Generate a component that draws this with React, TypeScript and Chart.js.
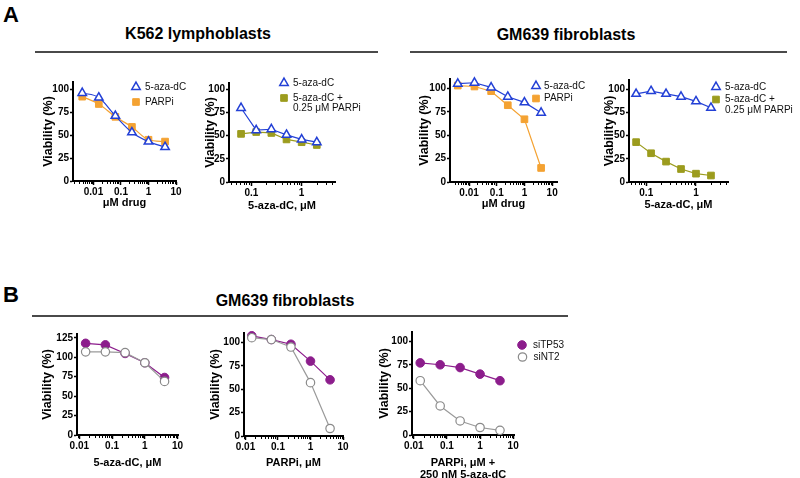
import React, { useEffect, useRef } from 'react';
import { Chart, registerables } from 'chart.js';

Chart.register(...registerables);

const FONT = "Arial, 'Liberation Sans', Helvetica, sans-serif";

// ---------------- data ----------------
const doseA4x = [0.0039, 0.0156, 0.0625, 0.25, 1, 4];
const doseA2x = [0.0625, 0.125, 0.25, 0.5, 1, 2];
const doseB = [0.0156, 0.0625, 0.25, 1, 4];

const a1Aza = [96, 91, 71, 53, 43, 37];
const a1Parp = [92, 84, 70, 59, 45, 43];

const a2Aza = [80, 56, 57, 51, 46, 43];
const a2Combo = [52, 54, 53, 46, 43, 40];

const a3Aza = [105, 106, 101, 91, 85, 74];
const a3Parp = [103, 102, 97, 82, 67, 15];

const a4Aza = [95, 98, 95, 92, 87, 80];
const a4Combo = [43, 31, 22, 14, 9, 7];

const b1TP53 = [118, 116, 105, 93, 74];
const b1NT2 = [107, 107, 106, 93, 69];
const b2TP53 = [107, 103, 98, 80, 60];
const b2NT2 = [105, 103, 95, 57, 8];
const b3TP53 = [77, 75, 72, 65, 58];
const b3NT2 = [58, 31, 15, 8, 5];

const yTicksA = [0, 25, 50, 75, 100];
const yTicksB1 = [0, 25, 50, 75, 100, 125];
const xTickLabels = [0.01, 0.1, 1, 10];

// ---------------- styles ----------------
const BLUE = '#2340d6';
const ORANGE = '#f4a232';
const OLIVE = '#9c9c1e';
const PURPLE = '#8c1d8c';
const GRAY = '#8a8a8a';

type Shape = 'triangle' | 'rect' | 'circle';
type Series = {
  name: string; x: number[]; y: number[]; shape: Shape; stroke: string; fill: string;
  line: string; r: number; bw: number; smooth?: boolean;
};
type LegendItem = { ds: number; x: number; y: number; text: string[] };
type Cfg = {
  x0: number; x1: number; yTop: number; y0: number;
  xMin: number; xMax: number; yMax: number; yTicks: number[];
  xTitle: string | string[]; yTitleX: number; xTitleY: number; rightExtent: number;
  series: Series[]; legend: LegendItem[]; textDx: number;
};

const tri = (name: string, x: number[], y: number[], smooth = false): Series => ({
  name, x, y, shape: 'triangle', stroke: BLUE, fill: '#ffffff', line: BLUE, r: 4.9, bw: 1.5, smooth,
});
const sq = (name: string, x: number[], y: number[], c: string, smooth = false): Series => ({
  name, x, y, shape: 'rect', stroke: c, fill: c, line: c, r: 4.7, bw: 1, smooth,
});
const dotP = (x: number[], y: number[]): Series => ({
  name: 'siTP53', x, y, shape: 'circle', stroke: PURPLE, fill: PURPLE, line: PURPLE, r: 4.3, bw: 1,
});
const dotG = (x: number[], y: number[]): Series => ({
  name: 'siNT2', x, y, shape: 'circle', stroke: GRAY, fill: '#ffffff', line: '#9a9a9a', r: 4.2, bw: 1.2,
});

const panels: Cfg[] = [
  {
    x0: 73, x1: 176, yTop: 82, y0: 181, xMin: 0.0018, xMax: 10, yMax: 108, yTicks: yTicksA,
    xTitle: 'μM drug', yTitleX: 48, xTitleY: 203, rightExtent: 192,
    series: [tri('5-aza-dC', doseA4x, a1Aza, true), sq('PARPi', doseA4x, a1Parp, ORANGE, true)],
    legend: [
      { ds: 0, x: 136, y: 87, text: ['5-aza-dC'] },
      { ds: 1, x: 136, y: 102, text: ['PARPi'] },
    ],
    textDx: 9,
  },
  {
    x0: 229, x1: 335, yTop: 83, y0: 182, xMin: 0.036, xMax: 4.6, yMax: 107, yTicks: yTicksA,
    xTitle: '5-aza-dC, μM', yTitleX: 210, xTitleY: 205.5, rightExtent: 370,
    series: [tri('5-aza-dC', doseA2x, a2Aza), sq('5-aza-dC + 0.25 μM PARPi', doseA2x, a2Combo, OLIVE)],
    legend: [
      { ds: 0, x: 284, y: 83, text: ['5-aza-dC'] },
      { ds: 1, x: 284, y: 98, text: ['5-aza-dC +', '0.25 μM PARPi'] },
    ],
    textDx: 9,
  },
  {
    x0: 450, x1: 557, yTop: 79, y0: 182, xMin: 0.00204, xMax: 15, yMax: 110, yTicks: yTicksA,
    xTitle: 'μM drug', yTitleX: 424, xTitleY: 204, rightExtent: 592,
    series: [tri('5-aza-dC', doseA4x, a3Aza), sq('PARPi', doseA4x, a3Parp, ORANGE)],
    legend: [
      { ds: 0, x: 536, y: 86, text: ['5-aza-dC'] },
      { ds: 1, x: 536, y: 98.5, text: ['PARPi'] },
    ],
    textDx: 8,
  },
  {
    x0: 629, x1: 728, yTop: 80, y0: 182, xMin: 0.045, xMax: 4.4, yMax: 110, yTicks: yTicksA,
    xTitle: '5-aza-dC, μM', yTitleX: 609, xTitleY: 205, rightExtent: 800,
    series: [tri('5-aza-dC', doseA2x, a4Aza), sq('5-aza-dC + 0.25 μM PARPi', doseA2x, a4Combo, OLIVE)],
    legend: [
      { ds: 0, x: 716, y: 87, text: ['5-aza-dC'] },
      { ds: 1, x: 716, y: 99.5, text: ['5-aza-dC +', '0.25 μM PARPi'] },
    ],
    textDx: 9,
  },
  {
    x0: 77, x1: 178, yTop: 334, y0: 435, xMin: 0.0085, xMax: 10.3, yMax: 130, yTicks: yTicksB1,
    xTitle: '5-aza-dC, μM', yTitleX: 47, xTitleY: 463, rightExtent: 192,
    series: [dotG(doseB, b1NT2), dotP(doseB, b1TP53)],
    legend: [], textDx: 0,
  },
  {
    x0: 244, x1: 343, yTop: 333, y0: 436, xMin: 0.009, xMax: 10, yMax: 110, yTicks: yTicksA,
    xTitle: 'PARPi, μM', yTitleX: 215, xTitleY: 463, rightExtent: 357,
    series: [dotG(doseB, b2NT2), dotP(doseB, b2TP53)],
    legend: [], textDx: 0,
  },
  {
    x0: 412, x1: 514, yTop: 332, y0: 435, xMin: 0.0088, xMax: 10.6, yMax: 110, yTicks: yTicksA,
    xTitle: ['PARPi, μM +', '250 nM 5-aza-dC'], yTitleX: 384, xTitleY: 474.5, rightExtent: 580,
    series: [dotG(doseB, b3NT2), dotP(doseB, b3TP53)],
    legend: [
      { ds: 1, x: 522, y: 345, text: ['siTP53'] },
      { ds: 0, x: 522.5, y: 357, text: ['siNT2'] },
    ],
    textDx: 11,
  },
];

function drawMarker(ctx: CanvasRenderingContext2D, style: string, x: number, y: number, r: number,
  stroke: string, fill: string, bw: number) {
  ctx.beginPath();
  if (style === 'triangle') {
    let a = 0;
    ctx.moveTo(x + Math.sin(a) * r, y - Math.cos(a) * r);
    a += (2 * Math.PI) / 3;
    ctx.lineTo(x + Math.sin(a) * r, y - Math.cos(a) * r);
    a += (2 * Math.PI) / 3;
    ctx.lineTo(x + Math.sin(a) * r, y - Math.cos(a) * r);
    ctx.closePath();
  } else if (style === 'rect') {
    const s = r * Math.SQRT1_2;
    ctx.rect(x - s, y - s, 2 * s, 2 * s);
  } else {
    ctx.arc(x, y, r, 0, Math.PI * 2);
  }
  ctx.fillStyle = fill;
  ctx.fill();
  if (bw > 0) {
    ctx.lineWidth = bw;
    ctx.strokeStyle = stroke;
    ctx.stroke();
  }
}

const decor = {
  id: 'decor',
  afterDraw(chart: any, _args: any, opts: any) {
    const ctx: CanvasRenderingContext2D = chart.ctx;
    const xs = chart.scales.x;
    const bottom = chart.chartArea.bottom;
    ctx.save();
    ctx.strokeStyle = '#000';
    ctx.lineWidth = 1;
    const lo = Math.floor(Math.log10(xs.min));
    const hi = Math.ceil(Math.log10(xs.max));
    for (let e = lo; e <= hi; e++) {
      for (let k = 2; k <= 9; k++) {
        const v = k * Math.pow(10, e);
        if (v <= xs.min || v >= xs.max) continue;
        const px = Math.round(xs.getPixelForValue(v)) + 0.5;
        ctx.beginPath();
        ctx.moveTo(px, bottom);
        ctx.lineTo(px, bottom + 3);
        ctx.stroke();
      }
    }
    const items: LegendItem[] = opts.items || [];
    items.forEach((it) => {
      const ds = chart.data.datasets[it.ds];
      const x = it.x - opts.ox;
      const y = it.y - opts.oy;
      drawMarker(ctx, ds.pointStyle, x, y, ds.pointRadius, ds.pointBorderColor, ds.pointBackgroundColor, ds.pointBorderWidth);
      ctx.fillStyle = '#111';
      ctx.font = `10px ${FONT}`;
      ctx.textBaseline = 'middle';
      ctx.textAlign = 'left';
      it.text.forEach((t, i) => ctx.fillText(t, x + opts.dx, y + i * 10.5));
    });
    ctx.restore();
  },
};

const Y_TITLE_SIZE = 12.5;
const Y_TITLE_LH = Y_TITLE_SIZE * 1.2;
const X_TITLE_SIZE = 11;
const X_TITLE_LH = X_TITLE_SIZE * 1.1;

function geometry(c: Cfg) {
  const left = Math.round(c.yTitleX - Y_TITLE_LH / 2);
  const top = c.yTop - 10;
  const bottom = Math.round(c.xTitleY + X_TITLE_LH / 2);
  const right = Math.max(c.x1 + 12, c.rightExtent);
  return {
    left, top, width: right - left, height: bottom - top,
    L: c.x0 - left, T: c.yTop - top, B: bottom - c.y0, R: right - c.x1,
  };
}

function Panel({ cfg }: { cfg: Cfg }) {
  const ref = useRef<HTMLCanvasElement>(null);
  const g = geometry(cfg);
  useEffect(() => {
    if (!ref.current) return;
    const tickFont = { family: FONT, size: 10, weight: 'bold' as const };
    const chart = new Chart(ref.current, {
      type: 'line',
      data: {
        datasets: cfg.series.map((s) => ({
          label: s.name,
          data: s.x.map((x, i) => ({ x, y: s.y[i] })),
          borderColor: s.line,
          backgroundColor: s.fill,
          borderWidth: 1.2,
          pointStyle: s.shape,
          pointRadius: s.r,
          pointBorderColor: s.stroke,
          pointBackgroundColor: s.fill,
          pointBorderWidth: s.bw,
          tension: s.smooth ? 0.4 : 0,
          cubicInterpolationMode: s.smooth ? 'monotone' : 'default',
          fill: false,
          clip: false,
        })) as any,
      },
      options: {
        responsive: false,
        animation: false,
        devicePixelRatio: 1,
        layout: { padding: { left: 0, top: g.T, right: g.R, bottom: 0 } },
        plugins: {
          legend: { display: false },
          tooltip: { enabled: false },
          decor: { items: cfg.legend, ox: g.left, oy: g.top, dx: cfg.textDx },
        } as any,
        scales: {
          x: {
            type: 'logarithmic',
            min: cfg.xMin,
            max: cfg.xMax,
            afterBuildTicks: (s: any) => {
              s.ticks = xTickLabels.filter((v) => v >= cfg.xMin && v <= cfg.xMax).map((v) => ({ value: v, major: true }));
            },
            afterFit: (s: any) => { s.height = g.B; },
            ticks: {
              callback: (v: any) => String(v),
              font: tickFont, color: '#000', padding: 1, maxRotation: 0, autoSkip: false,
            },
            grid: { drawOnChartArea: false, drawTicks: true, tickLength: 4, tickColor: '#000', tickWidth: 1.5 },
            border: { display: true, color: '#000', width: 2 },
            title: {
              display: true, text: cfg.xTitle as any, color: '#000', padding: 0,
              font: { family: FONT, size: X_TITLE_SIZE, weight: 'bold', lineHeight: 1.1 },
            },
          },
          y: {
            type: 'linear',
            min: 0,
            max: cfg.yMax,
            afterBuildTicks: (s: any) => { s.ticks = cfg.yTicks.map((v) => ({ value: v })); },
            afterFit: (s: any) => { s.width = g.L; },
            ticks: { font: tickFont, color: '#000', padding: 1, callback: (v: any) => String(v) },
            grid: { drawOnChartArea: false, drawTicks: true, tickLength: 3, tickColor: '#000', tickWidth: 1.5 },
            border: { display: true, color: '#000', width: 2 },
            title: {
              display: true, text: 'Viability (%)', color: '#000', padding: 0,
              font: { family: FONT, size: Y_TITLE_SIZE, weight: 'bold', lineHeight: 1.2 },
            },
          },
        },
      } as any,
      plugins: [decor],
    });
    return () => chart.destroy();
  }, []);
  return (
    <canvas
      ref={ref}
      width={g.width}
      height={g.height}
      style={{ position: 'absolute', left: g.left, top: g.top, width: g.width, height: g.height }}
    />
  );
}

const heading = (text: string, cx: number, top: number) => (
  <div
    style={{
      position: 'absolute', left: cx - 150, width: 300, top, textAlign: 'center',
      fontSize: 16, lineHeight: '16px', fontWeight: 'bold', color: '#000', whiteSpace: 'nowrap',
    }}
  >
    {text}
  </div>
);

const rule = (x1: number, x2: number, y: number) => (
  <div style={{ position: 'absolute', left: x1, top: y, width: x2 - x1, height: 2, background: '#4a4a4a' }} />
);

export default function App() {
  return (
    <div
      style={{
        position: 'absolute', left: 0, top: 0, width: 800, height: 478, background: '#fff',
        overflow: 'hidden', fontFamily: FONT,
      }}
    >
      <div style={{ position: 'absolute', left: 3, top: 4, fontSize: 22, lineHeight: '22px', fontWeight: 'bold' }}>A</div>
      <div style={{ position: 'absolute', left: 3, top: 284, fontSize: 22, lineHeight: '22px', fontWeight: 'bold' }}>B</div>
      {heading('K562 lymphoblasts', 198, 26)}
      {heading('GM639 fibroblasts', 566, 27)}
      {heading('GM639 fibroblasts', 285, 293)}
      {rule(35, 378, 51)}
      {rule(410, 787, 51)}
      {rule(32, 568, 315)}
      {panels.map((p, i) => (
        <Panel key={i} cfg={p} />
      ))}
    </div>
  );
}
